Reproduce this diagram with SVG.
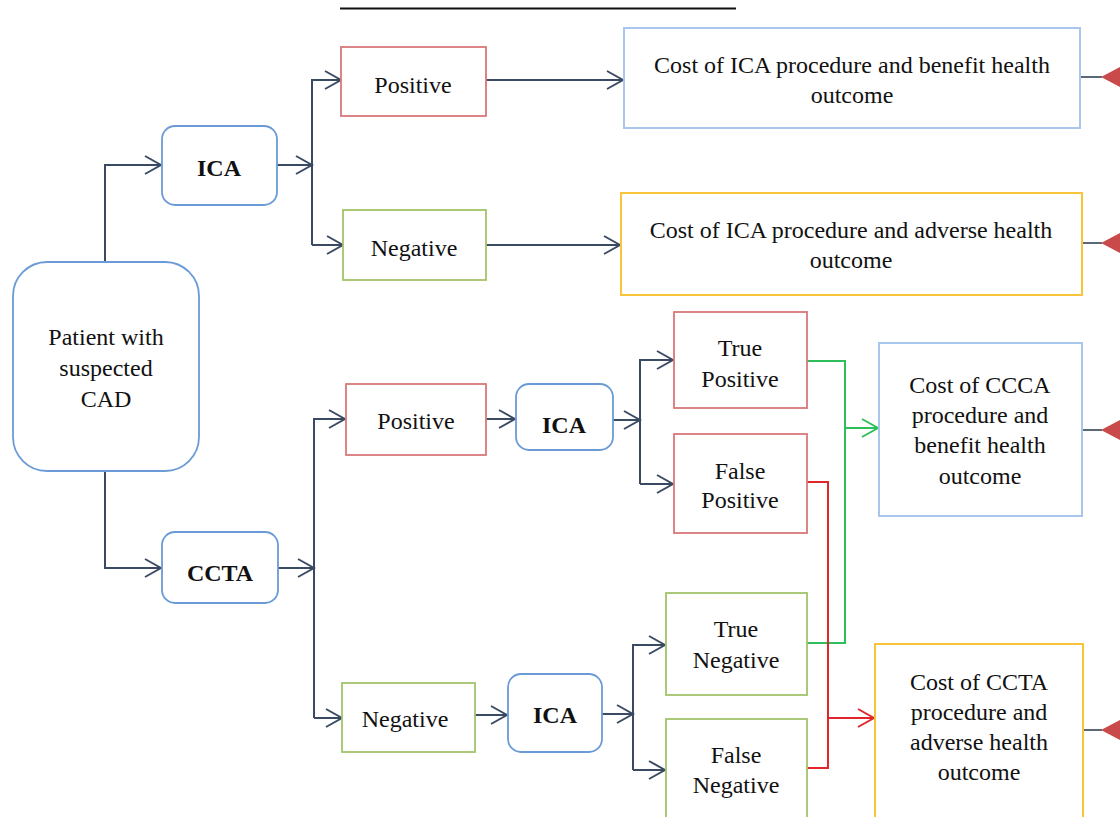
<svg xmlns="http://www.w3.org/2000/svg" width="1120" height="817" viewBox="0 0 1120 817">
<style>
text{font-family:"Liberation Serif","Times New Roman",serif;font-size:24px;fill:#111;text-anchor:middle}
.b{font-weight:bold}
.rn{fill:#fff;stroke:#6b9bd6;stroke-width:1.8}
.red{fill:#fff;stroke:#d9787a;stroke-width:1.8}
.grn{fill:#fff;stroke:#a2c46a;stroke-width:1.8}
.lb{fill:#fff;stroke:#a9c6ec;stroke-width:2}
.yl{fill:#fff;stroke:#f8c53a;stroke-width:2}
.c{fill:none;stroke:#3b4a63;stroke-width:2}
.cg{fill:none;stroke:#2fbf5a;stroke-width:2}
.cr{fill:none;stroke:#e0262a;stroke-width:2}
.stub{stroke:#5d6877;stroke-width:2}
.tri{fill:#c94a4a}
</style>
<defs>
<marker id="an" viewBox="0 0 20 20" refX="18" refY="10" markerWidth="20" markerHeight="20" markerUnits="userSpaceOnUse" orient="auto"><path d="M2,1 L18,10 L2,19" fill="none" stroke="#3b4a63" stroke-width="2"/></marker>
<marker id="ag" viewBox="0 0 20 20" refX="18" refY="10" markerWidth="20" markerHeight="20" markerUnits="userSpaceOnUse" orient="auto"><path d="M2,1 L18,10 L2,19" fill="none" stroke="#2fbf5a" stroke-width="2"/></marker>
<marker id="ar" viewBox="0 0 20 20" refX="18" refY="10" markerWidth="20" markerHeight="20" markerUnits="userSpaceOnUse" orient="auto"><path d="M2,1 L18,10 L2,19" fill="none" stroke="#e0262a" stroke-width="2"/></marker>
</defs>
<rect width="1120" height="817" fill="#fff"/>
<line x1="340" y1="8.5" x2="736" y2="8.5" stroke="#111" stroke-width="2"/>

<g id="connectors">
<path class="c" d="M105,262 V165 H161" marker-end="url(#an)"/>
<path class="c" d="M277,165 H312" marker-end="url(#an)"/>
<path class="c" d="M312,245 V80 H341" marker-end="url(#an)"/>
<path class="c" d="M312,245 H343" marker-end="url(#an)"/>
<path class="c" d="M486,80 H623" marker-end="url(#an)"/>
<path class="c" d="M486,245 H620" marker-end="url(#an)"/>
<path class="c" d="M105,471 V568 H161" marker-end="url(#an)"/>
<path class="c" d="M278,568 H314" marker-end="url(#an)"/>
<path class="c" d="M314,718 V419 H345" marker-end="url(#an)"/>
<path class="c" d="M314,718 H342" marker-end="url(#an)"/>
<path class="c" d="M486,419 H515" marker-end="url(#an)"/>
<path class="c" d="M613,420 H640" marker-end="url(#an)"/>
<path class="c" d="M640,484 V360 H673" marker-end="url(#an)"/>
<path class="c" d="M640,484 H673" marker-end="url(#an)"/>
<path class="c" d="M475,715 H507" marker-end="url(#an)"/>
<path class="c" d="M602,714 H633" marker-end="url(#an)"/>
<path class="c" d="M633,770 V645 H665" marker-end="url(#an)"/>
<path class="c" d="M633,770 H665" marker-end="url(#an)"/>
<path class="cg" d="M807,361 H845 V643 H807"/>
<path class="cg" d="M845,428 H878" marker-end="url(#ag)"/>
<path class="cr" d="M807,482 H828 V768 H807"/>
<path class="cr" d="M828,718 H874" marker-end="url(#ar)"/>
<line class="stub" x1="1081" y1="77" x2="1102" y2="77"/>
<line class="stub" x1="1083" y1="243" x2="1102" y2="243"/>
<line class="stub" x1="1082" y1="430" x2="1102" y2="430"/>
<line class="stub" x1="1084" y1="730" x2="1102" y2="730"/>
<polygon class="tri" points="1101,77 1124,65 1124,89"/>
<polygon class="tri" points="1101,243 1124,231 1124,255"/>
<polygon class="tri" points="1101,430 1124,418 1124,442"/>
<polygon class="tri" points="1101,730 1124,718 1124,742"/>
</g>

<g id="patient"><rect class="rn" x="13" y="262" width="186" height="209" rx="34"/>
<text x="106" y="345">Patient with</text><text x="106" y="376">suspected</text><text x="106" y="407">CAD</text></g>

<g id="ica-top"><rect class="rn" x="162" y="126" width="115" height="79" rx="13"/><text class="b" x="219" y="176">ICA</text></g>
<g id="pos-top"><rect class="red" x="341" y="47" width="145" height="69"/><text x="413" y="93">Positive</text></g>
<g id="neg-top"><rect class="grn" x="343" y="210" width="143" height="70"/><text x="414" y="256">Negative</text></g>
<g id="cost-ica-benefit"><rect class="lb" x="624" y="28" width="456" height="100"/>
<text x="852" y="73">Cost of ICA procedure and benefit health</text><text x="852" y="103">outcome</text></g>
<g id="cost-ica-adverse"><rect class="yl" x="621" y="193" width="461" height="102"/>
<text x="851" y="238">Cost of ICA procedure and adverse health</text><text x="851" y="268">outcome</text></g>

<g id="ccta"><rect class="rn" x="162" y="532" width="116" height="71" rx="13"/><text class="b" x="220" y="581">CCTA</text></g>
<g id="pos-low"><rect class="red" x="346" y="384" width="140" height="71"/><text x="416" y="429">Positive</text></g>
<g id="ica-pos"><rect class="rn" x="516" y="384" width="97" height="66" rx="13"/><text class="b" x="564" y="433">ICA</text></g>
<g id="true-pos"><rect class="red" x="674" y="312" width="133" height="96"/><text x="740" y="356">True</text><text x="740" y="387">Positive</text></g>
<g id="false-pos"><rect class="red" x="674" y="434" width="133" height="99"/><text x="740" y="479">False</text><text x="740" y="508">Positive</text></g>
<g id="neg-low"><rect class="grn" x="342" y="683" width="133" height="69"/><text x="405" y="727">Negative</text></g>
<g id="ica-neg"><rect class="rn" x="508" y="674" width="94" height="78" rx="13"/><text class="b" x="555" y="723">ICA</text></g>
<g id="true-neg"><rect class="grn" x="666" y="593" width="141" height="102"/><text x="736" y="637">True</text><text x="736" y="668">Negative</text></g>
<g id="false-neg"><rect class="grn" x="666" y="719" width="141" height="110"/><text x="736" y="763">False</text><text x="736" y="793">Negative</text></g>
<g id="cost-ccca-benefit"><rect class="lb" x="879" y="343" width="203" height="173"/>
<text x="980" y="393">Cost of CCCA</text><text x="980" y="423">procedure and</text><text x="980" y="453">benefit health</text><text x="980" y="484">outcome</text></g>
<g id="cost-ccta-adverse"><rect class="yl" x="875" y="644" width="208" height="190"/>
<text x="979" y="690">Cost of CCTA</text><text x="979" y="720">procedure and</text><text x="979" y="750">adverse health</text><text x="979" y="780">outcome</text></g>
</svg>
